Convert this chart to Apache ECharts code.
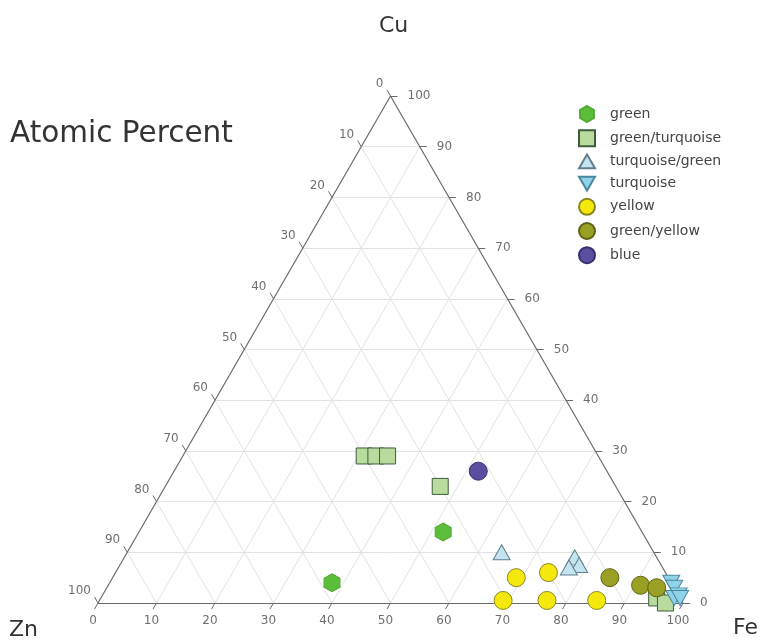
<!DOCTYPE html>
<html><head><meta charset="utf-8">
<script src="https://cdn.jsdelivr.net/npm/echarts@6.0.0/dist/echarts.min.js"></script>
<style>html,body{margin:0;padding:0;background:#fff}#c{width:763px;height:640px}</style>
</head><body><div id="c"></div>
<script>
// Compositions in atomic percent: [Cu, Zn, Fe]
const green = [[4, 58, 38], [14, 34, 52]];
const greenTurquoise = [[29, 40, 31], [29, 38, 33], [29, 36, 35], [23, 30, 47], [1, 4, 95], [0, 3, 97]];
const turquoiseGreen = [[10, 26, 64], [9, 14, 77], [7.5, 14, 78.5], [7, 16, 77]];
const turquoise = [[4, 0, 96], [3, 0, 97], [1.5, 0, 98.5], [1, 1, 98], [1, 0, 99]];
const yellow = [[0.5, 30.5, 69], [0.5, 23, 76.5], [0.5, 14.5, 85], [5, 26, 69], [6, 20, 74]];
const greenYellow = [[5, 10, 85], [3.5, 5.5, 91], [3, 3, 94]];
const blue = [[26, 22, 52]];
const tickValues = [0, 10, 20, 30, 40, 50, 60, 70, 80, 90, 100];
const seriesNames = ['green', 'green/turquoise', 'turquoise/green', 'turquoise', 'yellow', 'green/yellow', 'blue'];

const H = Math.sqrt(3) / 2;
// ternary -> cartesian (x: 0..100 from Zn to Fe vertex, y: 0..86.6 up to Cu vertex)
function tern(cu, zn, fe) { return [fe + cu / 2, cu * H]; }
function toXY(arr) { return arr.map(p => tern(p[0], p[1], p[2])); }

const gridLines = [];
for (let v = 10; v < 100; v += 10) {
  gridLines.push({ coords: [tern(v, 100 - v, 0), tern(v, 0, 100 - v)] });      // Cu = v
  gridLines.push({ coords: [tern(0, 100 - v, v), tern(100 - v, 0, v)] });      // Fe = v
  gridLines.push({ coords: [tern(0, v, 100 - v), tern(100 - v, v, 0)] });      // Zn = v
}
const edges = [
  { coords: [tern(0, 100, 0), tern(0, 0, 100)] },
  { coords: [tern(0, 0, 100), tern(100, 0, 0)] },
  { coords: [tern(100, 0, 0), tern(0, 100, 0)] }
];
const L = 1.2;
const tickLines = [];
const bottomPts = [], leftPts = [], rightPts = [];
tickValues.forEach(v => {
  const b = tern(0, 100 - v, v);          // Fe axis (bottom)
  tickLines.push({ coords: [b, [b[0] - 0.5 * L, b[1] - H * L]] });
  bottomPts.push({ value: b, label: { formatter: String(v) } });
  const l = tern(100 - v, v, 0);          // Zn axis (left)
  tickLines.push({ coords: [l, [l[0] - 0.5 * L, l[1] + H * L]] });
  leftPts.push({ value: l, label: { formatter: String(v) } });
  const r = tern(v, 0, 100 - v);          // Cu axis (right)
  tickLines.push({ coords: [r, [r[0] + L, r[1]]] });
  rightPts.push({ value: r, label: { formatter: String(v) } });
});

const FONT = 'DejaVu Sans, sans-serif';
function labelSeries(data, align, offset) {
  return {
    type: 'scatter', data: data, symbolSize: 1, silent: true, clip: false,
    itemStyle: { color: 'rgba(0,0,0,0)' },
    label: { show: true, position: 'inside', align: align, verticalAlign: 'middle', offset: offset,
      color: '#4a4a4a', fontSize: 12, fontFamily: FONT }
  };
}

const HEX = 'path://M0.866,0 L1.732,0.5 L1.732,1.5 L0.866,2 L0,1.5 L0,0.5 Z';
const DOWN = 'path://M0,0 L2,0 L1,1.732 Z';
const UP = 'path://M1,0 L2,1.732 L0,1.732 Z';
function pts(name, data, symbol, size, fill, border) {
  return { name: name, type: 'scatter', data: toXY(data), symbol: symbol, symbolSize: size, clip: false,
    itemStyle: { color: fill, borderColor: border, borderWidth: 1, opacity: 1 }, z: 5 };
}

const chart = echarts.init(document.getElementById('c'));
chart.setOption({
  animation: false,
  backgroundColor: '#fff',
  grid: { left: 98, top: 96, width: 585, height: 507, outerBoundsMode: 'none', containLabel: false },
  xAxis: { type: 'value', min: 0, max: 100, show: false },
  yAxis: { type: 'value', min: 0, max: 100 * H, show: false },
  legend: {
    orient: 'vertical', left: 573, top: 100, itemWidth: 16, itemHeight: 16, itemGap: 6.2,
    data: seriesNames,
    textStyle: { color: '#444', fontSize: 14, lineHeight: 16, fontFamily: FONT, padding: [0, 0, 0, 10] }
  },
  graphic: [
    { type: 'text', left: 10, top: 119, style: { text: 'Atomic Percent', fontSize: 29.5, fill: '#333', fontFamily: FONT } },
    { type: 'text', left: 379, top: 15, style: { text: 'Cu', fontSize: 22, fill: '#333', fontFamily: FONT } },
    { type: 'text', left: 9, top: 619, style: { text: 'Zn', fontSize: 22, fill: '#333', fontFamily: FONT } },
    { type: 'text', left: 733, top: 617, style: { text: 'Fe', fontSize: 22, fill: '#333', fontFamily: FONT } }
  ],
  series: [
    { type: 'lines', coordinateSystem: 'cartesian2d', data: gridLines, silent: true, z: 1,
      lineStyle: { color: '#e2e2e2', width: 1, opacity: 1 } },
    { type: 'lines', coordinateSystem: 'cartesian2d', data: edges, silent: true, z: 2, clip: false,
      lineStyle: { color: '#6a6a6a', width: 1.2, opacity: 1 } },
    { type: 'lines', coordinateSystem: 'cartesian2d', data: tickLines, silent: true, z: 2, clip: false,
      lineStyle: { color: '#6a6a6a', width: 1, opacity: 1 } },
    labelSeries(bottomPts, 'center', [-5, 18]),
    labelSeries(leftPts, 'right', [-7, -12]),
    labelSeries(rightPts, 'left', [17, 0]),
    pts('green', green, HEX, [16, 18], '#5cbd3a', '#53a834'),
    pts('green/turquoise', greenTurquoise, 'rect', 16, '#b9dc9e', '#3f5c3c'),
    pts('turquoise/green', turquoiseGreen, UP, [17, 15], '#c6e4ef', '#5f7f8c'),
    pts('turquoise', turquoise, DOWN, [17, 15], '#8fd2ea', '#4b879c'),
    pts('yellow', yellow, 'circle', 18, '#f4e80c', '#8a8620'),
    pts('green/yellow', greenYellow, 'circle', 18, '#99a024', '#5c6218'),
    pts('blue', blue, 'circle', 18, '#5a4ea0', '#37306e')
  ]
});
</script>
</body></html>
